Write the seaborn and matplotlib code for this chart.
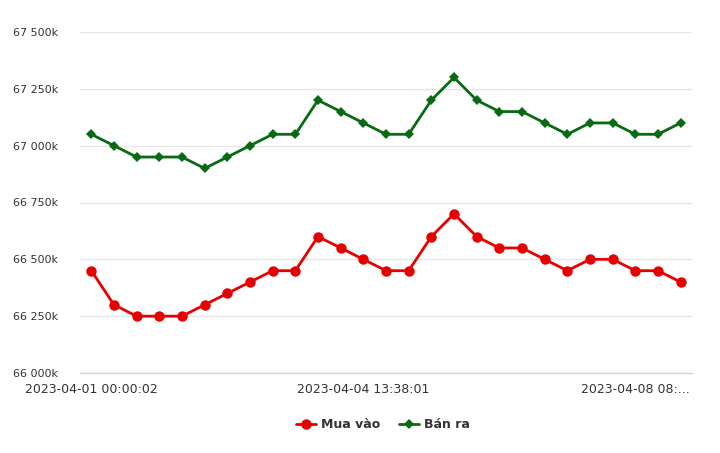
import matplotlib
matplotlib.use("Agg")
import matplotlib.pyplot as plt
import seaborn as sns
import pandas as pd
import numpy as np

buy = [66450, 66300, 66250, 66250, 66250, 66300, 66350, 66400, 66450, 66450,
       66600, 66550, 66500, 66450, 66450, 66600, 66700, 66600, 66550, 66550,
       66500, 66450, 66500, 66500, 66450, 66450, 66400]
sell = [67050, 67000, 66950, 66950, 66950, 66900, 66950, 67000, 67050, 67050,
        67200, 67150, 67100, 67050, 67050, 67200, 67300, 67200, 67150, 67150,
        67100, 67050, 67100, 67100, 67050, 67050, 67100]
tick_idx = [0, 12, 24]
tick_labels = ["2023-04-01 00:00:02", "2023-04-04 13:38:01", "2023-04-08 08:..."]
y_ticks = [66000, 66250, 66500, 66750, 67000, 67250, 67500]
series_names = ["Mua vào", "Bán ra"]
colors = ["#e60000", "#086a12"]

sns.set_style("white")
plt.rcParams['font.family'] = ['DejaVu Sans']

idx = np.arange(len(buy))
df = pd.DataFrame({"idx": np.concatenate([idx, idx]),
                   "value": buy + sell,
                   "series": [series_names[0]] * len(buy) + [series_names[1]] * len(sell)})

fig = plt.figure(figsize=(7.2, 4.53), dpi=100)
ax = fig.add_axes([80/720, 1-373/453, (692-80)/720, (373-32)/453])

sns.lineplot(data=df[df.series == series_names[0]], x="idx", y="value", ax=ax,
             color=colors[0], marker="o", markersize=7.5, markeredgewidth=0,
             linewidth=2, label=series_names[0], zorder=3)
sns.lineplot(data=df[df.series == series_names[1]], x="idx", y="value", ax=ax,
             color=colors[1], marker="D", markersize=5.5, markeredgewidth=0,
             linewidth=2, label=series_names[1], zorder=3)

ax.set_xlim(-0.5, len(buy) - 0.5)
ax.set_ylim(66000, 67500)
ax.set_yticks(y_ticks)
ax.set_yticklabels([f"{v:,}".replace(",", " ") + "k" for v in y_ticks])
ax.set_xticks(tick_idx)
ax.set_xticklabels(tick_labels)
ax.set_xlabel("")
ax.set_ylabel("")
ax.grid(axis="y", color="#e6e6e6", linewidth=1)
ax.set_axisbelow(True)
for s in ["left", "right", "top"]:
    ax.spines[s].set_visible(False)
ax.spines["bottom"].set_color("#ccd6eb")
ax.spines["bottom"].set_linewidth(1)
ax.tick_params(axis="y", length=0, pad=16, labelsize=8, labelcolor="#333333")
ax.tick_params(axis="x", length=0, pad=7, labelsize=9, labelcolor="#333333")

leg = ax.legend(loc="upper center", bbox_to_anchor=(0.5 - 3/612, -0.1), ncol=2,
                frameon=False, fontsize=9, handlelength=1.6, columnspacing=1.5,
                handletextpad=0.4)
for t in leg.get_texts():
    t.set_fontweight("semibold")
    t.set_color("#333333")

fig.savefig("out.png", dpi=100)
